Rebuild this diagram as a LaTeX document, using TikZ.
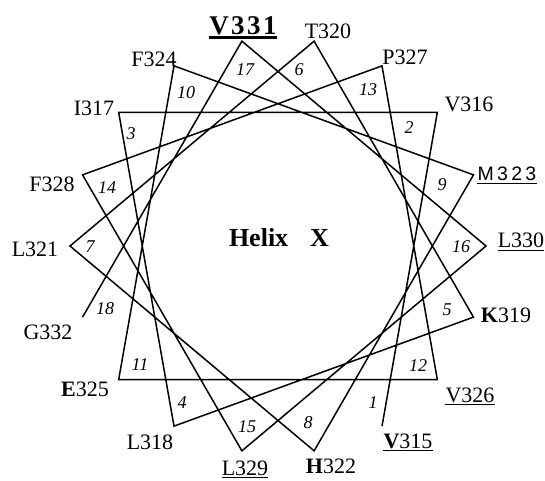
\documentclass[tikz,border=0pt]{standalone}
\usepackage{fontspec}
\setmainfont{Liberation Serif}
\newfontfamily\sansf{Liberation Sans}
\begin{document}
\begin{tikzpicture}[x=1pt,y=1pt,
  wheel/.style={line width=1.5pt, line join=miter},
  lbl/.style={inner sep=0pt, font=\fontsize{22}{24}\selectfont},
  num/.style={inner sep=0pt, font=\fontsize{18}{19}\selectfont\itshape},
  ulin/.style={line width=1pt}]
\useasboundingbox (0,0) rectangle (545,480);
% vertices of the helical wheel (100 degrees per residue)
\foreach \n in {1,...,18}{
  \pgfmathsetmacro\ang{300+(\n-1)*100}
  \coordinate (v\n) at ([shift={(278,234)}]\ang:208);
}
\draw[wheel] (v1) \foreach \n in {2,...,18}{ -- (v\n)};
% residue numbers
\node[num] (n1)  at (373,77)  {1};
\node[num] (n2)  at (409,352) {2};
\node[num] (n3)  at (131,346) {3};
\node[num] (n4)  at (182,77)  {4};
\node[num] (n5)  at (447,170) {5};
\node[num] (n6)  at (299,410) {6};
\node[num] (n7)  at (90,233)  {7};
\node[num] (n8)  at (308,57)  {8};
\node[num] (n9)  at (442,295) {9};
\node[num] (n10) at (186,387) {10};
\node[num] (n11) at (140,115) {11};
\node[num] (n12) at (418,114) {12};
\node[num] (n13) at (368,390) {13};
\node[num] (n14) at (107,292) {14};
\node[num] (n15) at (247,53)  {15};
\node[num] (n16) at (461,233) {16};
\node[num] (n17) at (245,410) {17};
\node[num] (n18) at (105,171) {18};
% residue labels
\node[inner sep=0pt, font=\fontsize{27}{29}\selectfont\bfseries] (V331) at (243,454) {V\kern2.5pt3\kern2.5pt3\kern2.5pt1};
\node[lbl] (T320) at (328,449) {T320};
\node[lbl] (P327) at (405,423) {P327};
\node[lbl] (V316) at (469,376) {V316};
\node[inner sep=0pt, font=\fontsize{19.5}{22}\sansf] (M323) at (507,306) {M\kern3.3pt3\kern3.3pt2\kern3.3pt3};
\node[lbl] (L330) at (521,240) {L330};
\node[lbl] (K319) at (506,165) {\textbf{K}319};
\node[lbl] (V326) at (470,85)  {V326};
\node[lbl] (V315) at (408,39)  {\textbf{V}315};
\node[lbl] (H322) at (331,14)  {\textbf{H}322};
\node[lbl] (L329) at (245,12)  {L329};
\node[lbl] (L318) at (150,38)  {L318};
\node[lbl] (E325) at (85,91)   {\textbf{E}325};
\node[lbl] (G332) at (48,148)  {G332};
\node[lbl] (L321) at (35,231)  {L321};
\node[lbl] (F328) at (52,296)  {F328};
\node[lbl] (I317) at (94,372)  {I317};
\node[lbl] (F324) at (154,421) {F324};
\node[inner sep=0pt, font=\fontsize{26}{28}\selectfont\bfseries] (title) at (279,242) {Helix\hspace{22pt}X};
% underlines
\draw[line width=2.6pt] ([yshift=-3pt]V331.base west) -- ([yshift=-3pt]V331.base east);
\foreach \u in {M323,L330,V326,V315,L329}
  \draw[ulin] ([yshift=-2.8pt]\u.base west) -- ([yshift=-2.8pt]\u.base east);
\end{tikzpicture}
\end{document}
